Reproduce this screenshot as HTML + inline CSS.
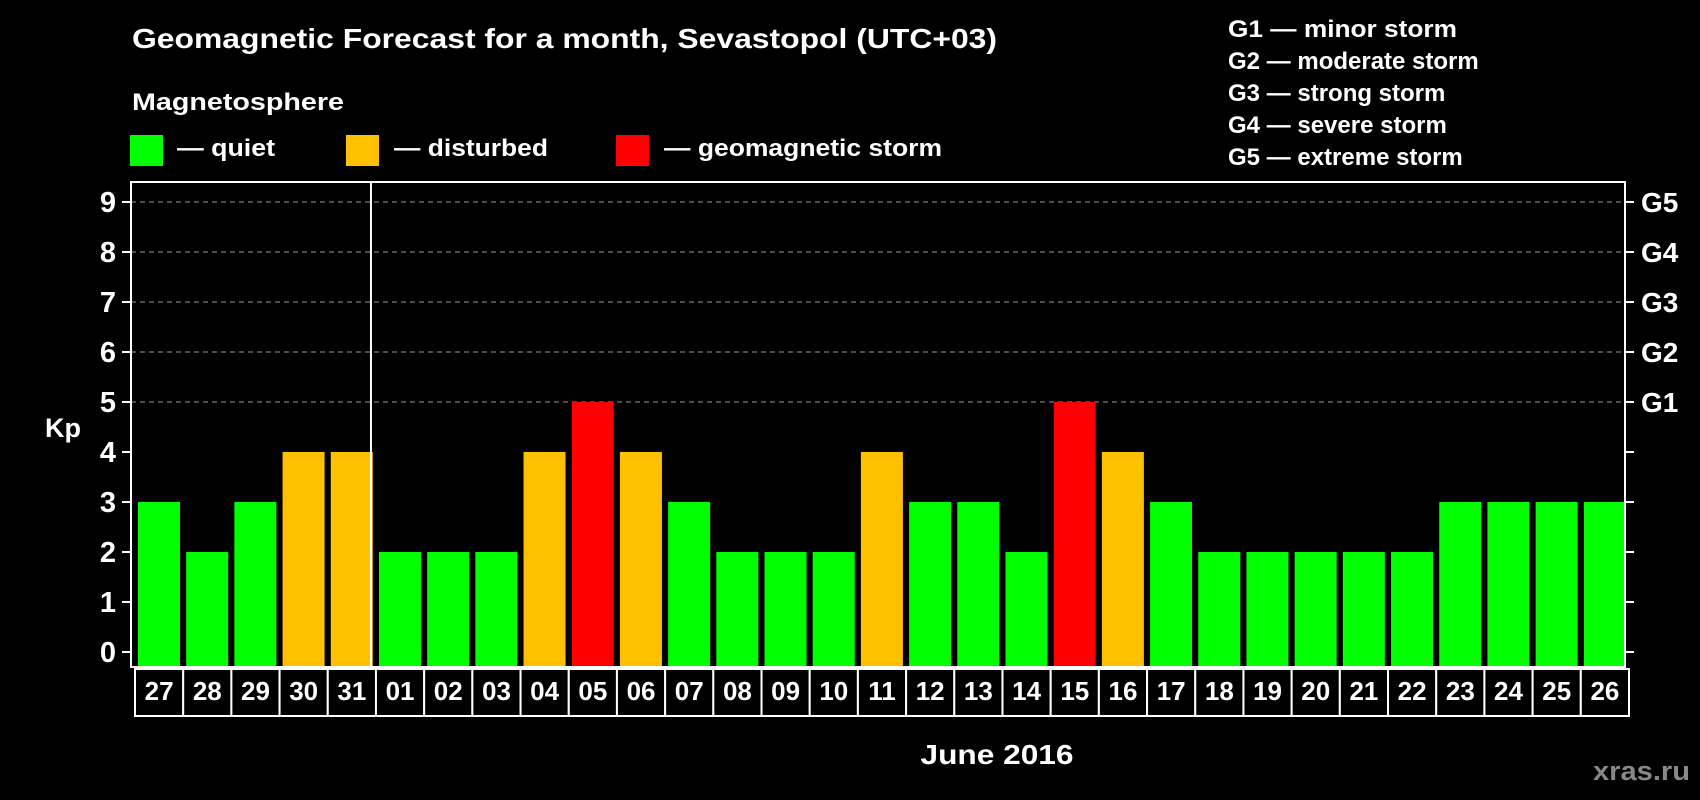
<!DOCTYPE html>
<html><head><meta charset="utf-8"><style>
html,body{margin:0;padding:0;background:#000;}
svg{display:block;font-family:"Liberation Sans",Arial,sans-serif;font-weight:bold;}
</style></head><body>
<svg id="chart" width="1700" height="800" viewBox="0 0 1700 800">
<text x="132" y="48" font-size="28" fill="#fff" textLength="865" lengthAdjust="spacingAndGlyphs">Geomagnetic Forecast for a month, Sevastopol (UTC+03)</text>
<text x="132" y="110" font-size="24" fill="#fff" textLength="212" lengthAdjust="spacingAndGlyphs">Magnetosphere</text>
<g><rect x="130" y="135" width="33" height="31" fill="#00ff00"/><text x="177" y="156" font-size="24" fill="#fff" textLength="98" lengthAdjust="spacingAndGlyphs">— quiet</text></g>
<g><rect x="346" y="135" width="33" height="31" fill="#ffc000"/><text x="394" y="156" font-size="24" fill="#fff" textLength="154" lengthAdjust="spacingAndGlyphs">— disturbed</text></g>
<g><rect x="616" y="135" width="33" height="31" fill="#ff0000"/><text x="664" y="156" font-size="24" fill="#fff" textLength="278" lengthAdjust="spacingAndGlyphs">— geomagnetic storm</text></g>
<g font-size="24" fill="#fff">
<text x="1228" y="37" textLength="229" lengthAdjust="spacingAndGlyphs">G1 — minor storm</text>
<text x="1228" y="69">G2 — moderate storm</text>
<text x="1228" y="101">G3 — strong storm</text>
<text x="1228" y="133">G4 — severe storm</text>
<text x="1228" y="165">G5 — extreme storm</text>
</g>
<text x="63" y="437" font-size="27" fill="#fff" text-anchor="middle">Kp</text>
<text x="997" y="764" font-size="28" fill="#fff" text-anchor="middle" textLength="153" lengthAdjust="spacingAndGlyphs">June 2016</text>
<text x="1690" y="780" font-size="27" fill="#888" text-anchor="end" textLength="97" lengthAdjust="spacingAndGlyphs">xras.ru</text>
<g id="plot"></g>
</svg>
<script>
const days = ["27","28","29","30","31","01","02","03","04","05","06","07","08","09","10","11","12","13","14","15","16","17","18","19","20","21","22","23","24","25","26"];
const kp = [3,2,3,4,4,2,2,2,4,5,4,3,2,2,2,4,3,3,2,5,4,3,2,2,2,2,2,3,3,3,3];
const yTicks = [0,1,2,3,4,5,6,7,8,9];
const gLabels = ["G1","G2","G3","G4","G5"];
const gLevels = [5,6,7,8,9];
const monthStartIndex = 5;

const NS = "http://www.w3.org/2000/svg";
const plot = document.getElementById("plot");
const L = 131, R = 1625, T = 182, B = 667;
const y0 = 652, unit = 50;
const step = (R - L) / days.length;
const y = v => y0 - v * unit;
const x = i => L + 7 + i * step;
function mk(tag, attrs) {
  const e = document.createElementNS(NS, tag);
  for (const k in attrs) e.setAttribute(k, attrs[k]);
  plot.appendChild(e);
  return e;
}
function color(v) { return v >= 5 ? "#ff0000" : v >= 4 ? "#ffc000" : "#00ff00"; }

yTicks.forEach(v => {
  if (v >= 5) {
    const g = mk("line", {x1: L, x2: R, y1: y(v), y2: y(v), stroke: "#999", "stroke-width": 1, "stroke-dasharray": "5,4"});
    
    
  }
  const t = mk("line", {x1: L - 9, x2: L, y1: y(v), y2: y(v), stroke: "#fff", "stroke-width": 2});
  
  
  const t2 = mk("line", {x1: R, x2: R + 9, y1: y(v), y2: y(v), stroke: "#fff", "stroke-width": 2});
  
  
  const lb = mk("text", {x: 116, y: y(v) + 10, "font-size": 29, fill: "#fff", "text-anchor": "end"});
  lb.textContent = v;
  
  
});
gLabels.forEach((g, i) => {
  const lb = mk("text", {x: 1641, y: y(gLevels[i]) + 10, "font-size": 28, fill: "#fff"});
  lb.textContent = g;
  
  
});
kp.forEach((v, i) => {
  const b = mk("rect", {x: x(i), y: y(v), width: 42, height: B - 1 - y(v), fill: color(v)});
  
  
});
const border = mk("rect", {x: L, y: T, width: R - L, height: B - T, fill: "none", stroke: "#fff", "stroke-width": 2});


const sep = mk("line", {x1: L + monthStartIndex * step - 1, x2: L + monthStartIndex * step - 1, y1: T, y2: B, stroke: "#fff", "stroke-width": 2});


days.forEach((d, i) => {
  const cx = 135 + i * step;
  const c = mk("rect", {x: cx, y: 669, width: step, height: 47, fill: "#000", stroke: "#fff", "stroke-width": 2});
  
  
  const t = mk("text", {x: cx + step / 2, y: 700, "font-size": 26, fill: "#fff", "text-anchor": "middle"});
  t.textContent = d;
  
  
});
</script>
</body></html>
